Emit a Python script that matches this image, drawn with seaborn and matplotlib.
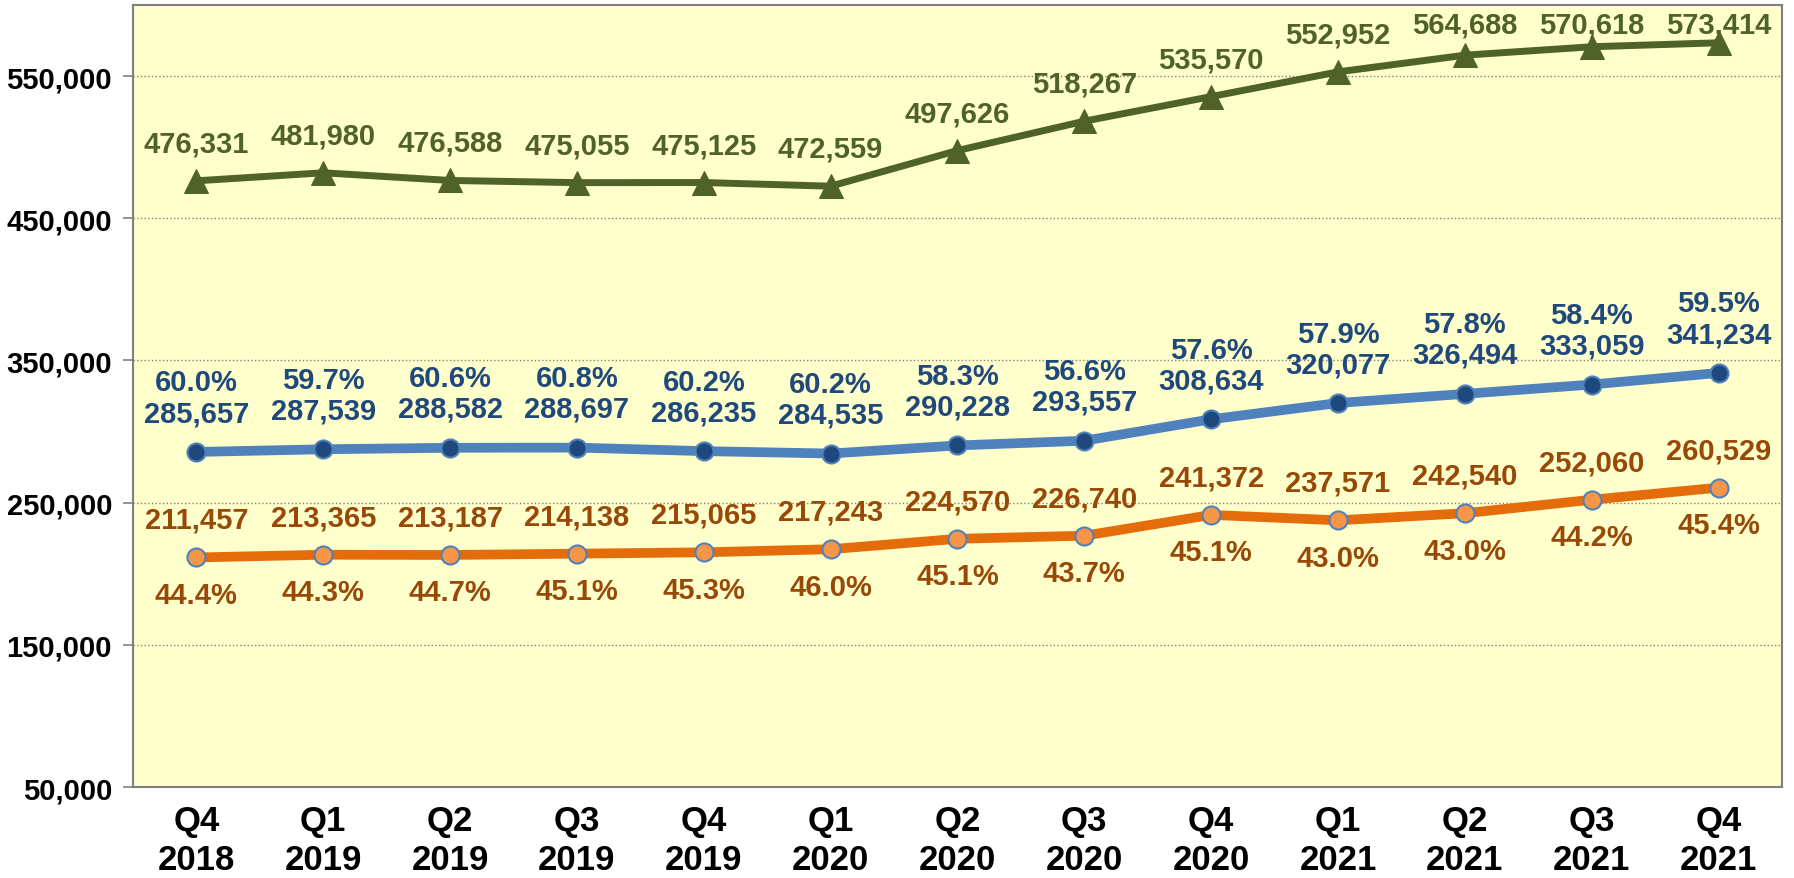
import matplotlib
matplotlib.use("Agg")
import matplotlib.pyplot as plt
import seaborn as sns
import numpy as np
import pandas as pd

quarters = ["Q4\n2018", "Q1\n2019", "Q2\n2019", "Q3\n2019", "Q4\n2019", "Q1\n2020",
            "Q2\n2020", "Q3\n2020", "Q4\n2020", "Q1\n2021", "Q2\n2021", "Q3\n2021", "Q4\n2021"]
total_vals = [476331, 481980, 476588, 475055, 475125, 472559, 497626, 518267,
              535570, 552952, 564688, 570618, 573414]
blue_vals = [285657, 287539, 288582, 288697, 286235, 284535, 290228, 293557,
             308634, 320077, 326494, 333059, 341234]
blue_pct = [60.0, 59.7, 60.6, 60.8, 60.2, 60.2, 58.3, 56.6, 57.6, 57.9, 57.8, 58.4, 59.5]
orange_vals = [211457, 213365, 213187, 214138, 215065, 217243, 224570, 226740,
               241372, 237571, 242540, 252060, 260529]
orange_pct = [44.4, 44.3, 44.7, 45.1, 45.3, 46.0, 45.1, 43.7, 45.1, 43.0, 43.0, 44.2, 45.4]
y_ticks = [50000, 150000, 250000, 350000, 450000, 550000]

sns.set_theme(style="white")
plt.rcParams["font.family"] = ["Liberation Sans", "DejaVu Sans"]
plt.rcParams["font.weight"] = "bold"

fig = plt.figure(figsize=(17.94, 8.79), dpi=100)
ax = fig.add_axes([0.0741, 0.1035, 0.9192, 0.8897])
ax.set_facecolor("#FFFFCC")

pos = np.arange(len(quarters))
df = pd.DataFrame({"pos": pos, "total": total_vals, "blue": blue_vals, "orange": orange_vals})

green = "#4F6228"
blue_line = "#4F81BD"
blue_dark = "#1F497D"
orange_line = "#E46C0A"
orange_mark = "#F79646"
brown = "#984807"

ymin, ymax = 50000, 600000
ax.set_xlim(-0.5, len(quarters) - 0.5)
ax.set_ylim(ymin, ymax)

sns.lineplot(data=df, x="pos", y="total", ax=ax, color=green, linewidth=5,
             marker="^", markersize=17, markerfacecolor=green, markeredgecolor=green, zorder=3)
sns.lineplot(data=df, x="pos", y="blue", ax=ax, color=blue_line, linewidth=7,
             marker="o", markersize=13, markerfacecolor=blue_dark, markeredgecolor=blue_line,
             markeredgewidth=1.5, zorder=3)
sns.lineplot(data=df, x="pos", y="orange", ax=ax, color=orange_line, linewidth=7,
             marker="o", markersize=13, markerfacecolor=orange_mark, markeredgecolor=blue_line,
             markeredgewidth=1.5, zorder=3)

fs = 21
ax_h_pt = 0.8897 * 8.79 * 72  # axes height in points
for i in pos:
    # keep top labels inside the plot area
    pt_to_top = (ymax - total_vals[i]) / (ymax - ymin) * ax_h_pt
    off = min(27, pt_to_top - 14)
    ax.annotate(f"{total_vals[i]:,}", (i, total_vals[i]), xytext=(0, off), textcoords="offset points",
                ha="center", va="center", fontsize=fs, fontweight="bold", color=green)
    ax.annotate(f"{blue_vals[i]:,}", (i, blue_vals[i]), xytext=(0, 28), textcoords="offset points",
                ha="center", va="center", fontsize=fs, fontweight="bold", color=blue_dark)
    ax.annotate(f"{blue_pct[i]:.1f}%", (i, blue_vals[i]), xytext=(0, 50), textcoords="offset points",
                ha="center", va="center", fontsize=fs, fontweight="bold", color=blue_dark)
    ax.annotate(f"{orange_vals[i]:,}", (i, orange_vals[i]), xytext=(0, 27), textcoords="offset points",
                ha="center", va="center", fontsize=fs, fontweight="bold", color=brown)
    ax.annotate(f"{orange_pct[i]:.1f}%", (i, orange_vals[i]), xytext=(0, -27), textcoords="offset points",
                ha="center", va="center", fontsize=fs, fontweight="bold", color=brown)

ax.set_yticks(y_ticks)
ax.set_yticklabels([f"{v:,}" for v in y_ticks], fontsize=21, fontweight="bold", color="black")
ax.set_xticks(pos)
ax.set_xticklabels(quarters, fontsize=25, fontweight="bold", color="black", linespacing=1.25)
ax.set_xticks(np.arange(-0.5, len(quarters), 1.0), minor=True)
ax.tick_params(axis="x", which="major", length=0, pad=12)
ax.tick_params(axis="x", which="minor", length=7, width=1.2, color="#808080", direction="out")
ax.tick_params(axis="y", which="major", length=7, width=1.2, color="#808080", direction="out", pad=8,
               left=True)
ax.set_xlabel("")
ax.set_ylabel("")
ax.grid(axis="y", which="major", linestyle=":", color="#808080", linewidth=1)
ax.set_axisbelow(True)
for sp in ax.spines.values():
    sp.set_visible(True)
    sp.set_color("#808080")
    sp.set_linewidth(1.5)

fig.savefig("out.png", dpi=100, facecolor="white")
